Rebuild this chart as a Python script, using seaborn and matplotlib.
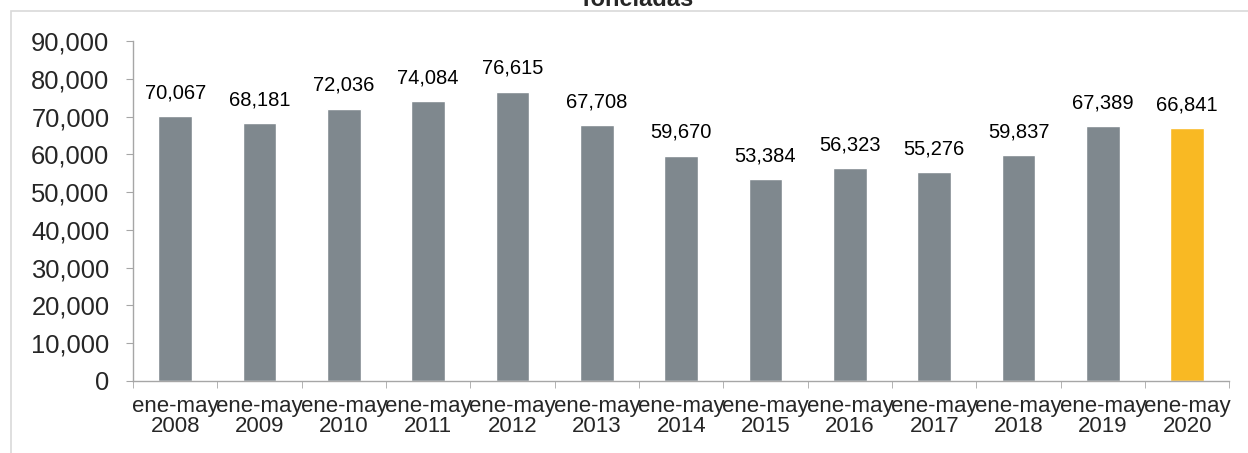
import numpy as np
import pandas as pd
import seaborn as sns
import matplotlib.pyplot as plt
from matplotlib.patches import Rectangle
from matplotlib.ticker import FuncFormatter, MultipleLocator

# Data
years = ["2008", "2009", "2010", "2011", "2012", "2013", "2014",
         "2015", "2016", "2017", "2018", "2019", "2020"]
tons = [70067, 68181, 72036, 74084, 76615, 67708, 59670,
        53384, 56323, 55276, 59837, 67389, 66841]
labels = ["ene-may\n" + y for y in years]

gray = "#7F888E"
yellow = "#F9B923"
colors = [gray] * (len(years) - 1) + [yellow]

df = pd.DataFrame({"periodo": labels, "toneladas": tons})

sns.set_style("white")
plt.rcParams["font.family"] = ["Liberation Sans", "DejaVu Sans"]

fig = plt.figure(figsize=(12.48, 4.53), dpi=100)
ax = fig.add_axes([0.1066, 0.159, 0.8785, 0.7505])

sns.barplot(data=df, x="periodo", y="toneladas", hue="periodo",
            palette=colors, width=0.4, saturation=1, legend=False, ax=ax)

ax.set_ylim(0, 90000)
ax.set_xlim(-0.5, len(years) - 0.5)
ax.yaxis.set_major_locator(MultipleLocator(10000))
ax.yaxis.set_major_formatter(FuncFormatter(lambda v, p: f"{int(v):,}"))
ax.set_xlabel("")
ax.set_ylabel("")

# value labels
for i, v in enumerate(tons):
    ax.annotate(f"{v:,}", (i, v), xytext=(0, 10), textcoords="offset points",
                ha="center", va="bottom", fontsize=14.5, color="#000000")

# spines and ticks
for s in ["top", "right"]:
    ax.spines[s].set_visible(False)
for s in ["left", "bottom"]:
    ax.spines[s].set_color("#A6A6A6")
    ax.spines[s].set_linewidth(1.0)

ax.tick_params(axis="y", length=5, color="#A6A6A6", pad=12, labelsize=18.4,
               left=True, direction="out")
ax.tick_params(axis="x", which="major", length=0, pad=11, labelsize=16)
ax.set_xticks(np.arange(-0.5, len(years), 1.0), minor=True)
ax.tick_params(axis="x", which="minor", length=5, color="#A6A6A6",
               bottom=True, direction="out")
for t in ax.get_xticklabels():
    t.set_linespacing(0.95)

# outer chart frame (partly cropped)
fig.patches.append(Rectangle((0.0088, -0.2), 1.2, 0.976 + 0.2,
                             transform=fig.transFigure, fill=False,
                             edgecolor="#D9D9D9", linewidth=1.2))

# title, mostly cut off at the top as in the source crop
fig.text(0.51, 0.976, "Toneladas", ha="center", va="bottom",
         fontsize=17, fontweight="bold")

fig.savefig("out.png", dpi=100)
